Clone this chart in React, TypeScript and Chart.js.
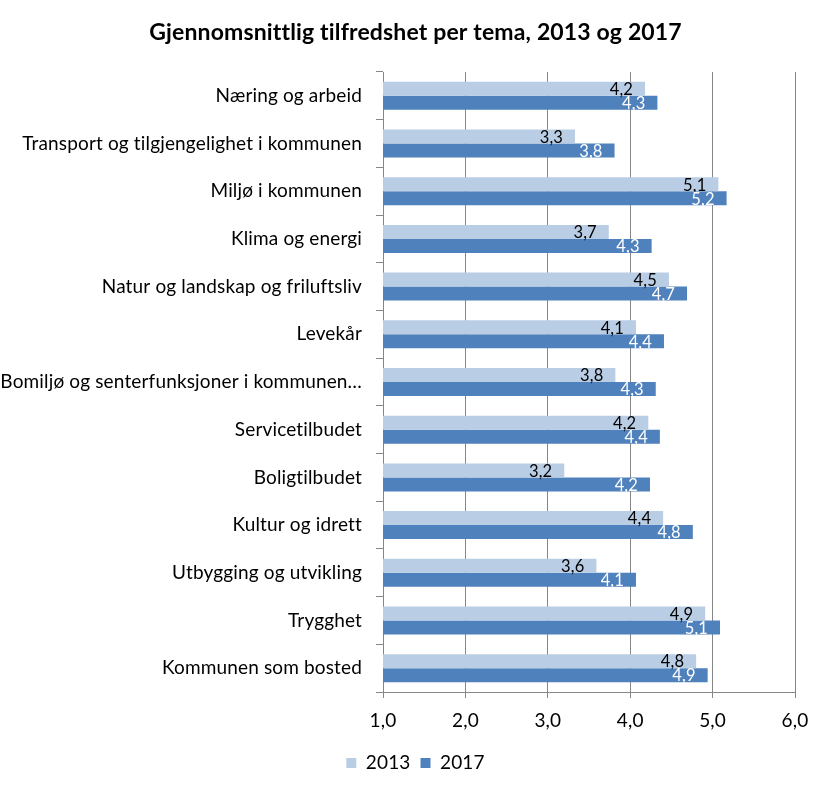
import React, { useEffect, useRef } from "react";
import { Chart, registerables } from "chart.js";

Chart.register(...registerables);

const categories = [
  "Næring og arbeid",
  "Transport og tilgjengelighet i kommunen",
  "Miljø i kommunen",
  "Klima og energi",
  "Natur og landskap og friluftsliv",
  "Levekår",
  "Bomiljø og senterfunksjoner i kommunen…",
  "Servicetilbudet",
  "Boligtilbudet",
  "Kultur og idrett",
  "Utbygging og utvikling",
  "Trygghet",
  "Kommunen som bosted",
];

const values2013 = [4.18, 3.33, 5.07, 3.74, 4.47, 4.07, 3.82, 4.22, 3.2, 4.4, 3.59, 4.91, 4.8];
const values2017 = [4.33, 3.81, 5.17, 4.26, 4.69, 4.41, 4.31, 4.36, 4.24, 4.76, 4.07, 5.09, 4.94];

const seriesNames = ["2013", "2017"];
const xTicks = [1, 2, 3, 4, 5, 6];

const FONT = "Lato";
const SPACING = "0.15px";

const fmt = (v: number) => v.toFixed(1).replace(".", ",");

const spacingPlugin = {
  id: "noLigatures",
  beforeUpdate(chart: any) {
    chart.ctx.letterSpacing = SPACING;
  },
  beforeLayout(chart: any) {
    chart.ctx.letterSpacing = SPACING;
  },
  beforeDraw(chart: any) {
    chart.ctx.letterSpacing = SPACING;
  },
};

const labelPlugin = {
  id: "barLabels",
  afterDatasetsDraw(chart: any) {
    const ctx = chart.ctx;
    ctx.save();
    ctx.font = `16.5px ${FONT}`;
    ctx.textAlign = "right";
    ctx.textBaseline = "middle";
    chart.data.datasets.forEach((ds: any, di: number) => {
      const meta = chart.getDatasetMeta(di);
      ctx.fillStyle = di === 0 ? "#000000" : "#ffffff";
      meta.data.forEach((bar: any, i: number) => {
        ctx.fillText(fmt(ds.data[i]), bar.x - 12, bar.y + 1);
      });
    });
    ctx.restore();
  },
};

export default function App() {
  const ref = useRef<HTMLCanvasElement>(null);
  useEffect(() => {
    document.body.style.margin = "0";
    const chart = new Chart(ref.current!, {
      type: "bar",
      data: {
        labels: categories,
        datasets: [
          {
            label: seriesNames[0],
            data: values2013,
            backgroundColor: "#B9CDE5",
            categoryPercentage: 0.587,
            barPercentage: 1,
          },
          {
            label: seriesNames[1],
            data: values2017,
            backgroundColor: "#4F81BD",
            categoryPercentage: 0.587,
            barPercentage: 1,
          },
        ],
      },
      options: {
        indexAxis: "y",
        animation: false,
        responsive: false,
        maintainAspectRatio: false,
        layout: { padding: { left: 0, right: 0, top: 0, bottom: 12.5 } },
        plugins: {
          title: {
            display: true,
            text: "Gjennomsnittlig tilfredshet per tema, 2013 og 2017",
            color: "#000",
            font: { family: FONT, size: 23, weight: "bold" },
            padding: { top: 19, bottom: 25.4 },
          },
          legend: {
            position: "bottom",
            labels: {
              color: "#000",
              font: { family: FONT, size: 19 },
              boxWidth: 10,
              boxHeight: 10,
              padding: 10,
            },
          },
          tooltip: { enabled: false },
        },
        scales: {
          x: {
            min: 1,
            max: 6,
            afterBuildTicks(scale: any) {
              scale.ticks = xTicks.map((v) => ({ value: v }));
            },
            afterFit(scale: any) {
              scale.height = 51.5;
              scale.paddingRight = 36;
            },
            ticks: {
              color: "#000",
              font: { family: FONT, size: 19 },
              padding: 11,
              callback: (v: any) => fmt(Number(v)),
            },
            grid: {
              color: "#868686",
              tickLength: 6,
              drawTicks: true,
            },
            border: { color: "#868686" },
          },
          y: {
            afterFit(scale: any) {
              scale.width = 383;
            },
            ticks: {
              color: "#000",
              font: { family: FONT, size: 19 },
              padding: 14,
            },
            grid: {
              drawOnChartArea: false,
              color: "#868686",
              tickLength: 7,
              offset: true,
            },
            border: { color: "#868686" },
          },
        },
      },
      plugins: [spacingPlugin, labelPlugin],
    });
    return () => chart.destroy();
  }, []);
  return (
    <div style={{ width: 831, height: 795 }}>
      <canvas ref={ref} width={831} height={795} style={{ width: 831, height: 795 }} />
    </div>
  );
}
